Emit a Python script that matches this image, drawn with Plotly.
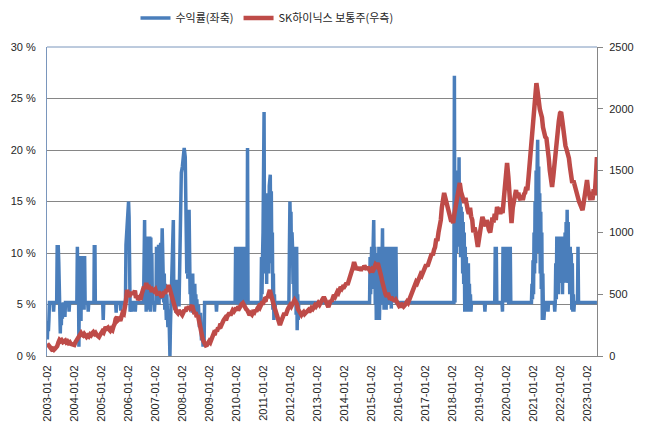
import plotly.graph_objects as go

# ---- 수익률(좌축), % ----
blue_dates = [
    "2003-01-02","2003-01-09","2003-01-16","2003-01-23","2003-01-30","2003-03-20","2003-03-27","2003-04-03",
    "2003-05-08","2003-05-15","2003-05-29","2003-06-05","2003-06-12","2003-06-19","2003-06-26","2003-07-03",
    "2003-07-10","2003-07-17","2003-07-24","2003-07-31","2003-08-07","2003-08-14","2003-08-28","2003-09-04",
    "2003-10-16","2003-10-23","2003-10-30",
    "2004-02-05","2004-02-12","2004-02-19","2004-02-26","2004-03-04","2004-03-11","2004-03-18","2004-03-25",
    "2004-04-01","2004-04-08","2004-04-15","2004-04-22","2004-04-29","2004-05-06","2004-05-13","2004-05-20",
    "2004-05-27","2004-07-01","2004-07-08","2004-07-15","2004-09-23","2004-09-28","2004-10-07","2004-10-12",
    "2005-01-20","2005-01-27","2005-02-03","2005-07-14","2005-07-21","2005-07-28","2005-09-15","2005-09-22",
    "2005-09-29","2005-11-24","2005-12-01","2005-12-15",
    "2006-01-05","2006-01-12","2006-01-19","2006-01-26","2006-02-02","2006-02-16","2006-02-23","2006-03-30",
    "2006-04-06","2006-04-13","2006-07-27","2006-08-10","2006-08-17","2006-08-24","2006-08-31","2006-09-07",
    "2006-09-14","2006-09-21","2006-09-28","2006-10-05","2006-10-12","2006-10-19","2006-10-26","2006-11-02",
    "2006-11-09","2006-11-16","2006-11-23","2006-12-14","2006-12-21","2006-12-28",
    "2007-01-11","2007-01-18","2007-01-25","2007-02-01","2007-02-08","2007-02-15","2007-02-22","2007-03-01",
    "2007-03-08","2007-03-15","2007-03-22","2007-04-05","2007-04-12","2007-04-19","2007-04-26","2007-05-03",
    "2007-05-10","2007-05-17","2007-05-31","2007-06-07","2007-06-21","2007-07-05","2007-07-19","2007-07-26",
    "2007-08-02","2007-09-03","2007-09-10","2007-09-17","2007-09-24","2007-10-01","2007-10-08","2007-10-15",
    "2007-10-22","2007-10-29","2007-11-05","2007-11-12","2007-11-19","2007-11-26","2007-12-10","2007-12-20",
    "2008-01-03","2008-01-17","2008-01-28","2008-02-11","2008-02-25","2008-03-03","2008-03-10","2008-03-17",
    "2008-04-03","2008-04-10","2008-04-17","2008-04-24","2008-05-01","2008-05-08","2008-05-15","2008-05-22",
    "2008-05-29","2008-06-05","2008-06-12","2008-06-19","2008-06-26","2008-07-03","2008-07-10","2008-07-17",
    "2008-07-24","2008-08-07","2008-08-21","2008-09-04","2008-09-18","2008-10-02","2008-10-09","2008-10-16",
    "2008-10-23","2008-10-30",
    "2009-04-02","2009-04-09","2009-04-16","2009-12-17","2009-12-24","2009-12-31",
    "2010-01-07","2010-01-14","2010-01-21","2010-01-28","2010-02-04","2010-02-11","2010-02-18","2010-02-25",
    "2010-03-04","2010-03-11","2010-03-18","2010-03-25","2010-04-01","2010-04-08","2010-04-15","2010-04-22",
    "2010-05-27","2010-06-03","2010-06-10","2010-12-02","2010-12-09","2010-12-16","2010-12-23","2010-12-30",
    "2011-01-13","2011-01-20","2011-01-27","2011-02-10","2011-02-17","2011-02-24","2011-03-03","2011-03-10",
    "2011-03-17","2011-03-24","2011-04-07","2011-04-14","2011-04-21","2011-04-28","2011-05-05","2011-05-12",
    "2011-05-19","2011-05-26","2011-06-02","2011-06-09","2011-06-16","2011-12-15","2011-12-22","2011-12-29",
    "2012-01-05","2012-01-12","2012-01-19","2012-01-26","2012-02-02","2012-02-09","2012-02-16","2012-02-23",
    "2012-03-01","2012-03-08","2012-03-15","2012-03-22","2012-03-29","2012-04-05","2012-04-12","2012-04-19",
    "2012-04-26",
    "2014-12-11","2014-12-18","2014-12-25","2015-01-08","2015-01-15","2015-01-22","2015-02-05","2015-02-12",
    "2015-02-19","2015-02-26","2015-03-05","2015-03-12","2015-03-19","2015-03-26","2015-04-02","2015-04-09",
    "2015-04-16","2015-04-23","2015-04-30","2015-05-07","2015-05-14","2015-05-21","2015-06-04","2015-06-11",
    "2015-06-18","2015-06-25","2015-07-02","2015-07-09","2015-07-16","2015-07-23","2015-07-30","2015-08-06",
    "2015-08-13","2015-08-20","2015-08-27","2015-09-03","2015-09-10","2015-09-17","2015-09-24","2015-10-01",
    "2015-10-08","2015-10-15","2015-10-22","2015-10-29","2015-11-05","2015-11-12","2015-11-19","2015-11-26",
    "2015-12-03","2015-12-10",
    "2018-01-25","2018-02-01","2018-02-08","2018-02-15","2018-02-22","2018-03-01","2018-03-08","2018-03-15",
    "2018-03-22","2018-03-29","2018-04-05","2018-04-12","2018-04-19","2018-04-26","2018-05-03","2018-05-10",
    "2018-05-17","2018-05-24","2018-05-31","2018-06-07","2018-06-14","2018-06-21","2018-06-28","2018-07-05",
    "2018-07-12","2018-07-19","2018-07-26","2018-08-02","2018-08-09","2018-08-16","2018-08-23","2018-08-30",
    "2018-09-06","2018-09-13","2018-09-20",
    "2019-03-14","2019-03-21","2019-03-28","2019-08-01","2019-08-08","2019-08-15","2019-08-22","2019-08-29",
    "2019-11-07","2019-11-14","2019-11-21","2019-11-28","2019-12-05","2019-12-12","2019-12-19","2019-12-26",
    "2020-01-02","2020-01-09","2020-01-16","2020-01-23","2020-01-30","2020-02-06","2020-02-13","2020-02-20",
    "2020-02-27","2020-03-05","2020-03-19","2020-12-10","2020-12-17","2020-12-24","2020-12-31",
    "2021-01-07","2021-01-14","2021-01-21","2021-01-28","2021-02-04","2021-02-11","2021-02-18","2021-02-25",
    "2021-03-04","2021-03-11","2021-03-18","2021-03-25","2021-04-01","2021-04-08","2021-04-15","2021-04-22",
    "2021-04-29","2021-05-06","2021-05-13","2021-05-20","2021-05-27","2021-06-10","2021-07-15","2021-07-22",
    "2021-07-29","2021-10-14","2021-10-21","2021-10-28","2021-11-04","2021-11-11","2021-11-18","2021-11-25",
    "2021-12-02","2021-12-09","2021-12-16","2021-12-23","2021-12-30",
    "2022-01-06","2022-01-13","2022-01-20","2022-01-27","2022-02-03","2022-02-10","2022-02-17","2022-02-24",
    "2022-03-03","2022-03-10","2022-03-17","2022-03-24","2022-03-31","2022-04-07","2022-04-14","2022-04-21",
    "2022-04-28","2022-05-05","2022-05-12","2022-05-19","2022-05-26","2022-06-02","2022-06-09","2022-06-16",
    "2022-06-23","2022-06-30","2022-07-07","2022-07-14","2022-08-25","2022-09-01","2022-09-08","2023-05-15",
]
blue_vals = [
    1.6,3.4,2.4,3.5,5.2,5.2,4.3,5.2,
    5.2,10.6,10.6,9.2,7.6,5.0,2.2,4.6,
    3.0,5.2,3.6,5.2,4.0,5.2,3.8,5.2,
    5.2,4.3,5.2,
    5.2,10.6,6.0,8.4,0.9,8.0,4.0,9.7,
    3.4,9.7,5.0,9.7,4.5,9.7,4.5,9.7,
    5.2,5.2,4.3,5.2,5.2,10.6,10.6,5.2,
    5.2,3.5,5.2,5.2,4.2,5.2,5.2,4.4,
    5.2,5.2,10.8,12.5,
    15.0,13.5,9.0,4.3,5.2,4.3,5.2,5.2,
    4.3,5.2,5.2,13.2,6.0,11.6,4.3,11.6,
    5.0,11.6,4.5,11.6,5.2,11.6,4.3,11.5,
    5.2,10.0,5.2,5.2,4.3,5.2,
    5.2,10.6,5.5,10.6,6.0,10.8,5.0,10.6,
    5.5,11.0,6.0,12.4,7.0,10.6,5.2,8.0,
    4.5,7.0,3.5,6.0,2.8,4.5,0.0,3.0,
    5.2,13.2,5.0,7.4,4.5,6.8,4.2,7.0,
    4.8,7.4,5.0,6.5,4.8,7.0,12.0,17.8,
    18.4,19.8,20.2,19.3,11.3,8.0,10.5,7.5,
    14.2,8.0,6.0,8.0,4.5,7.5,4.2,8.0,
    5.0,6.5,4.2,7.0,4.5,6.0,4.2,5.5,
    4.0,5.0,2.8,4.2,1.5,2.8,0.9,2.0,
    1.0,5.2,
    5.2,4.3,5.2,5.2,10.6,5.2,
    10.6,5.0,10.6,6.0,10.6,5.2,10.6,4.8,
    10.6,5.5,10.6,5.2,10.6,5.0,10.6,5.2,
    5.2,20.2,5.2,5.2,9.6,6.0,9.6,12.0,
    23.7,8.0,15.0,15.8,7.0,15.8,9.0,14.0,
    8.0,16.5,17.6,10.0,16.0,9.0,12.0,4.5,
    8.0,3.5,6.0,4.4,5.2,5.2,10.6,15.0,
    12.0,14.0,9.0,12.0,10.6,7.0,10.6,5.0,
    10.6,6.0,10.6,4.0,10.6,2.5,6.0,3.5,
    5.2,
    5.2,9.6,6.0,10.6,6.5,10.6,13.2,7.0,
    10.6,5.0,10.0,3.5,7.0,3.5,9.0,4.0,
    10.6,3.5,6.0,4.3,10.6,5.2,12.4,5.0,
    10.6,4.5,10.6,5.2,10.6,4.5,10.6,5.2,
    10.6,6.0,10.6,5.0,10.6,5.2,10.6,4.6,
    10.6,5.2,10.6,5.2,10.6,5.2,10.6,5.2,
    10.6,5.2,
    5.2,27.2,5.2,12.0,17.5,10.0,15.8,12.0,
    18.0,10.6,19.3,10.6,15.8,9.6,14.5,9.6,
    14.0,8.0,13.0,7.0,12.0,4.3,10.6,4.3,
    9.6,4.3,8.0,4.3,9.0,4.3,7.0,4.3,
    6.0,4.3,5.2,
    5.2,4.3,5.2,5.2,10.6,5.2,10.6,5.2,
    5.2,4.3,10.6,5.2,10.6,6.0,10.6,5.5,
    10.6,5.2,10.6,6.0,10.6,5.0,10.6,5.2,
    10.6,5.2,5.2,5.2,7.0,5.5,9.3,
    6.0,12.0,8.0,15.0,9.0,18.0,10.0,18.4,
    21.0,12.0,18.4,10.0,15.8,8.0,14.0,6.5,
    12.0,3.5,8.0,4.5,3.5,5.2,5.2,4.3,
    5.2,5.2,4.3,5.2,9.0,5.5,11.6,7.1,
    11.6,6.0,11.6,7.1,11.6,
    7.1,11.6,7.1,11.0,6.0,11.6,7.1,11.0,
    7.5,12.0,7.1,13.0,8.0,14.2,7.1,13.0,
    7.1,10.6,6.0,10.6,7.1,10.0,4.5,9.0,
    4.3,6.0,4.3,5.2,5.2,10.6,5.2,5.2,
]

# ---- SK하이닉스 보통주(우측): values read on the 1st and 15th of each month ----
red_dates = [f"{y}-{m:02d}-{d:02d}" for y in range(2003, 2024) for m in range(1, 13) for d in (1, 15)
             if (y, m) <= (2023, 5)]
red_vals = [
    # 2003
    100,85,75,70,55,60,50,58,65,80,110,130,120,128,112,120,125,110,118,105,112,98,95,100,
    # 2004
    89,110,130,150,165,175,186,172,165,178,160,154,165,158,175,168,185,194,180,188,170,162,154,170,
    # 2005
    185,200,190,215,235,222,230,215,205,220,210,240,260,300,316,290,300,285,320,348,340,380,450,534,
    # 2006
    500,477,520,495,518,500,530,470,490,453,470,455,500,520,560,545,590,560,575,540,560,518,545,530,
    # 2007
    540,510,493,520,500,490,477,500,520,505,540,525,574,545,500,470,453,400,380,360,348,370,360,340,
    # 2008
    332,350,372,360,396,380,400,385,396,410,370,340,355,316,330,280,250,210,146,120,100,85,89,105,
    # 2009
    120,110,130,150,180,170,210,200,230,220,260,250,280,291,305,290,320,335,348,330,355,370,360,385,
    # 2010
    388,370,400,390,410,420,429,410,395,380,370,350,332,345,335,355,350,372,360,385,400,390,410,429,
    # 2011
    429,450,440,480,470,510,534,500,450,430,396,370,330,300,270,251,280,300,330,348,330,365,380,395,
    # 2012
    412,400,430,440,453,440,420,380,360,340,332,345,355,340,348,365,370,355,375,388,380,400,410,400,
    # 2013
    420,429,415,440,445,460,477,460,430,400,396,420,450,440,470,493,480,505,520,510,540,558,545,560,
    # 2014
    558,580,590,575,600,615,640,690,720,760,720,700,720,696,710,690,720,705,730,715,700,720,700,690,
    # 2015
    700,680,696,720,740,730,752,720,690,650,600,558,530,500,480,510,477,460,480,450,465,440,453,430,
    # 2016
    420,405,412,395,410,400,412,425,440,430,460,490,518,540,560,580,600,590,620,639,660,650,680,696,
    # 2017
    710,740,725,760,777,800,830,815,858,880,950,930,1000,1044,1100,1200,1250,1319,1280,1250,1200,1181,1150,1100,
    # 2018
    1100,1076,1150,1200,1260,1300,1350,1400,1330,1300,1260,1238,1280,1200,1180,1150,1200,1130,1100,1000,1040,1000,900,882,
    # 2019
    950,1000,1080,1125,1100,1060,1050,1100,1030,1019,1000,1060,1120,1080,1150,1100,1205,1180,1200,1150,1180,1157,1250,1350,
    # 2020
    1450,1561,1450,1350,1200,1076,1200,1250,1300,1343,1280,1320,1280,1262,1300,1262,1310,1320,1367,1340,1450,1550,1700,1853,
    # 2021
    1950,2050,2100,2208,2150,2050,2000,1966,1930,1850,1800,1772,1760,1700,1600,1500,1420,1367,1450,1550,1650,1750,1853,1900,
    # 2022
    1966,1974,1900,1820,1760,1700,1667,1640,1600,1530,1450,1400,1420,1380,1343,1300,1280,1250,1230,1205,1180,1230,1300,1350,
    # 2023
    1424,1350,1300,1262,1300,1262,1350,1300,1450,1610,
]

year_ticks = [f"{y}-01-02" for y in range(2003, 2024)]

AX_FONT = dict(family="Liberation Sans, Arial, sans-serif", size=11, color="#262626")

fig = go.Figure()
fig.add_trace(go.Scatter(
    x=blue_dates, y=blue_vals, name="수익률(좌축)", mode="lines",
    line=dict(color="#4A7EBB", width=3.5), yaxis="y",
))
fig.add_trace(go.Scatter(
    x=red_dates, y=red_vals, name="SK하이닉스 보통주(우측)", mode="lines",
    line=dict(color="#BE4B48", width=4.5), yaxis="y2",
))

fig.update_layout(
    width=645, height=436,
    margin=dict(l=47, r=48, t=47, b=80, autoexpand=False),
    paper_bgcolor="white", plot_bgcolor="white",
    showlegend=True,
    legend=dict(orientation="h", x=0.40, xanchor="center", y=1.094, yanchor="middle",
                font=dict(family="Noto Sans CJK KR, sans-serif", size=11, color="#262626"),
                bgcolor="rgba(0,0,0,0)", itemwidth=30),
    xaxis=dict(
        type="date", range=["2002-12-28", "2023-05-16"],
        tickmode="array", tickvals=year_ticks, ticktext=year_ticks,
        tickangle=-90, tickfont=AX_FONT, showgrid=False,
        showline=True, linecolor="#868686", linewidth=1, ticks="", zeroline=False,
        ticklabelstandoff=4,
    ),
    yaxis=dict(
        range=[0, 30], dtick=5, ticksuffix=" %", tickfont=AX_FONT,
        showgrid=True, gridcolor="#868686", gridwidth=1,
        showline=True, linecolor="#7A96BC", linewidth=1, mirror=False,
        ticks="", zeroline=False, ticklabelstandoff=8,
    ),
    yaxis2=dict(
        range=[0, 2500], dtick=500, overlaying="y", side="right", tickfont=AX_FONT,
        showgrid=False, showline=True, linecolor="#868686", linewidth=1,
        ticks="outside", ticklen=5, tickcolor="#868686", zeroline=False,
        ticklabelstandoff=4,
    ),
)
# top border of plot area
fig.add_shape(type="line", xref="paper", yref="paper", x0=0, x1=1, y0=1, y1=1,
              line=dict(color="#7A96BC", width=1))

fig.write_html("out.html")
